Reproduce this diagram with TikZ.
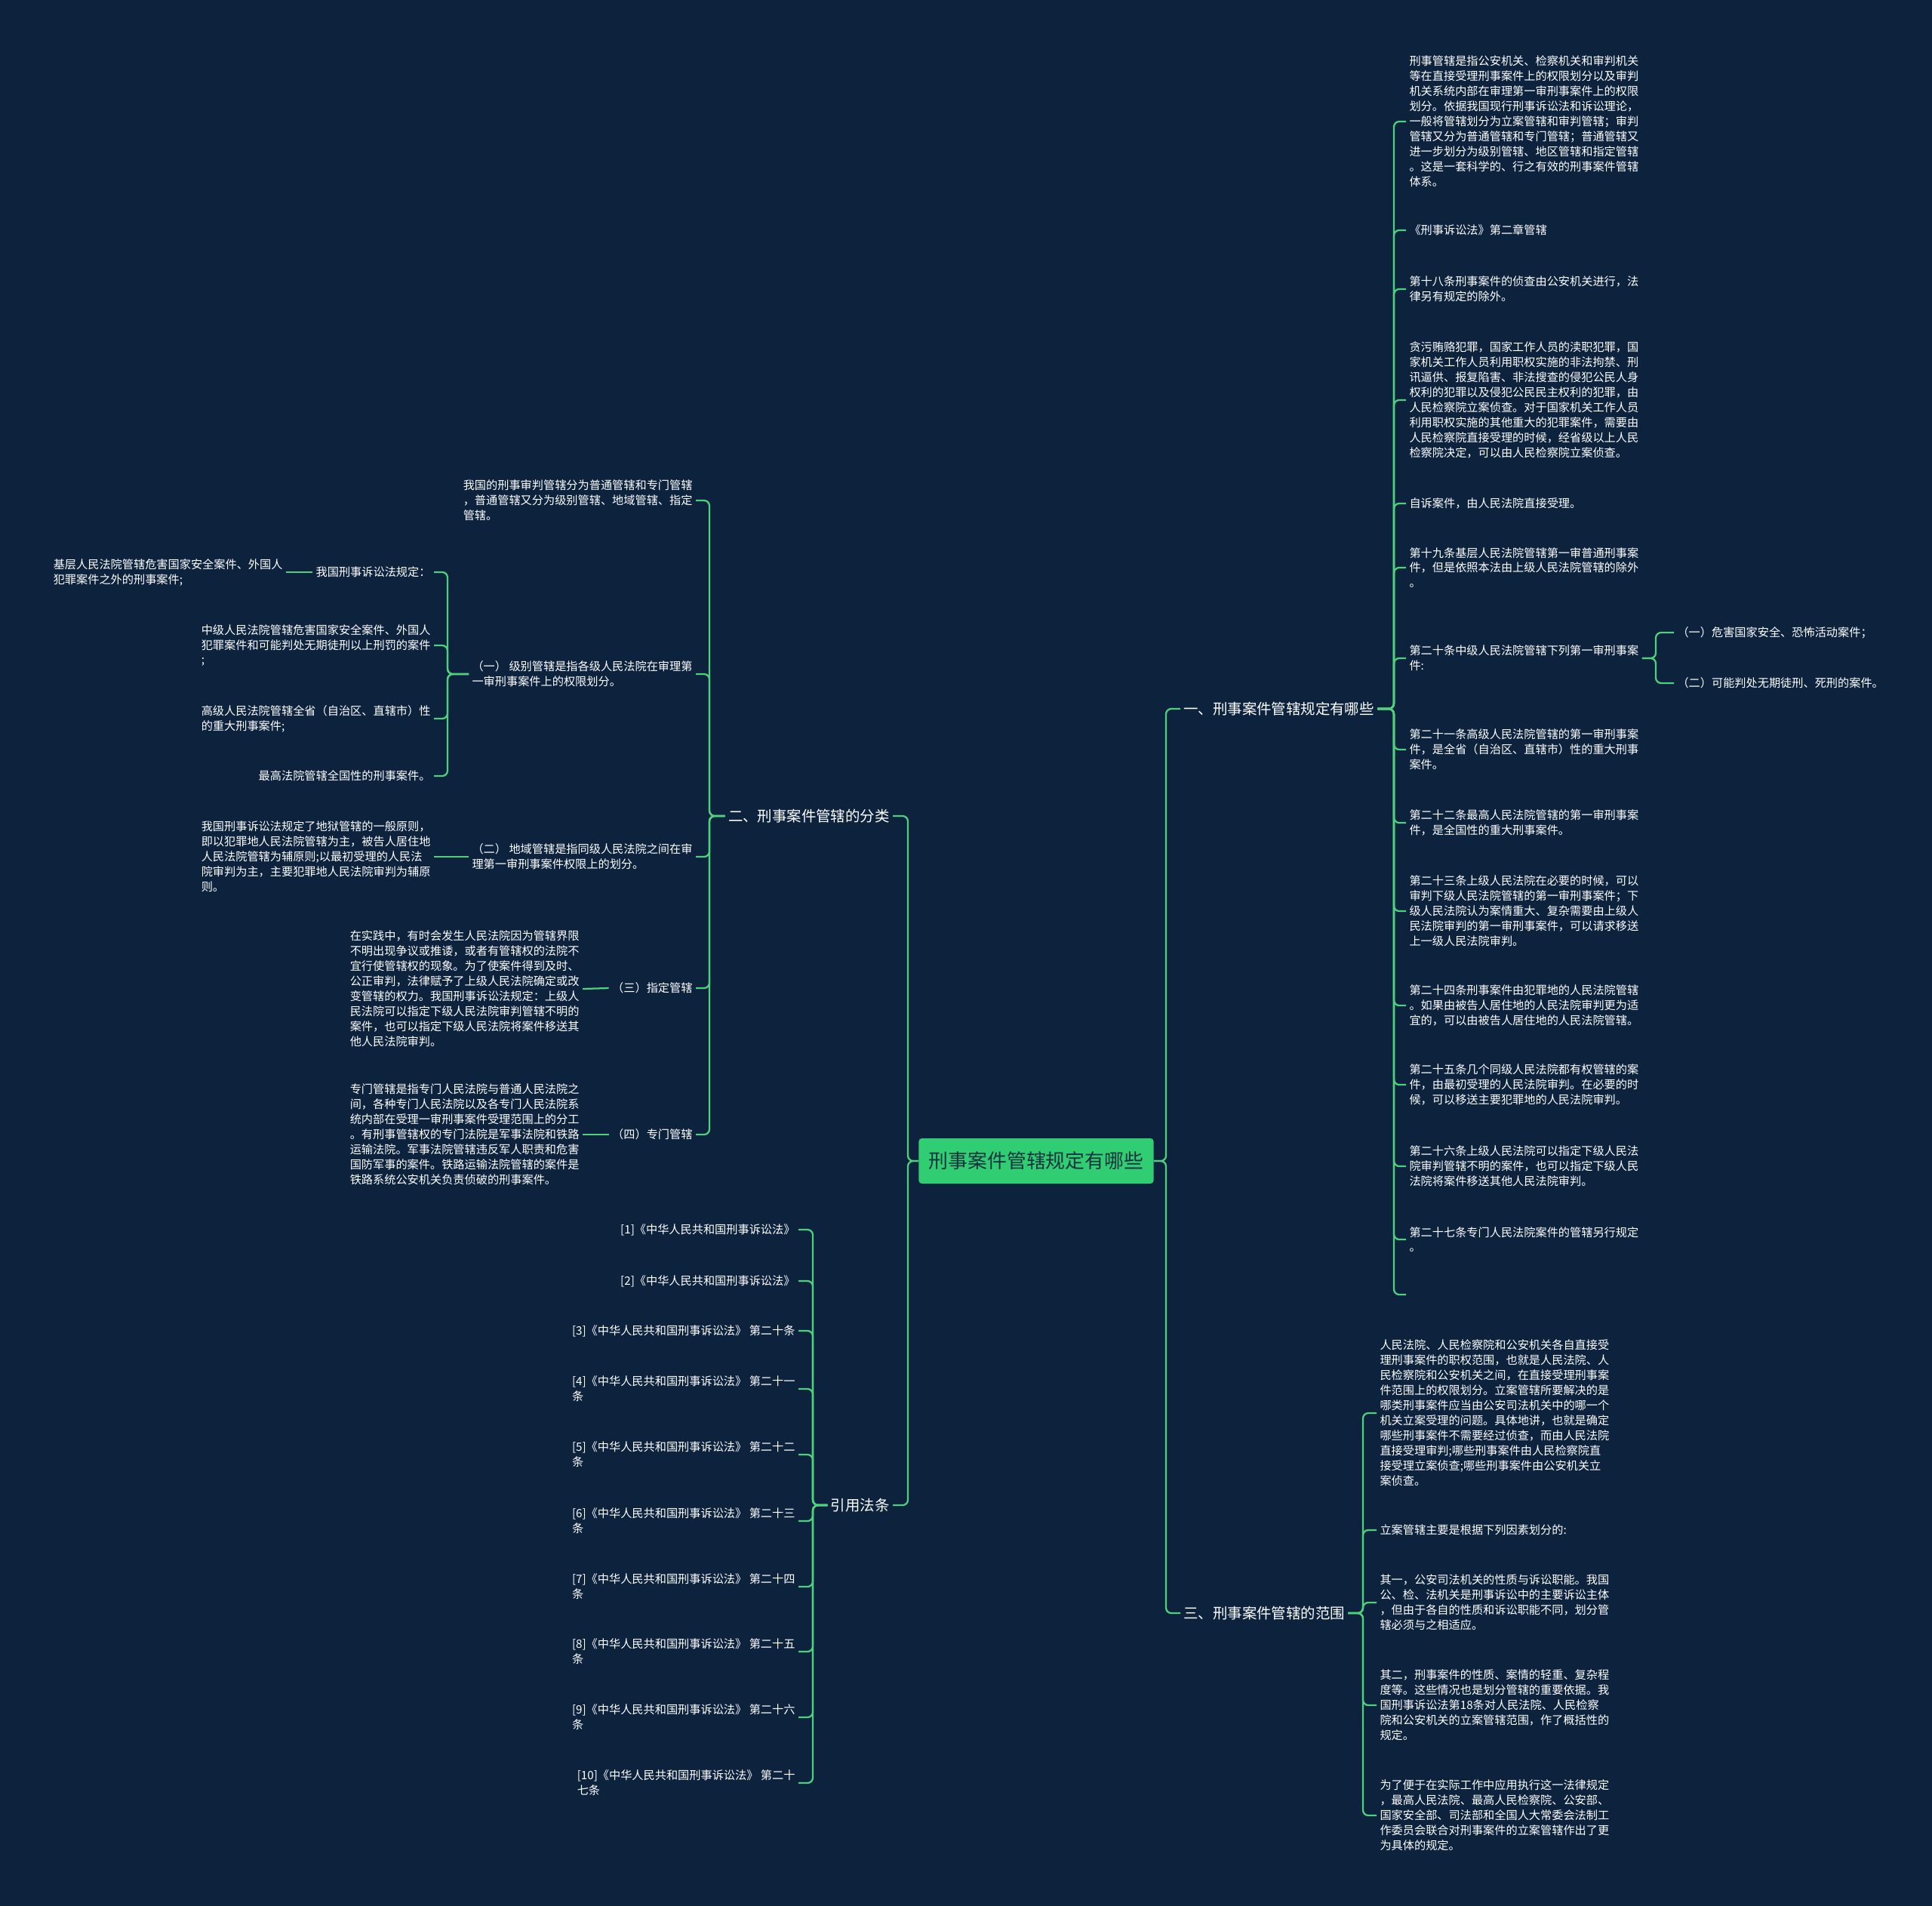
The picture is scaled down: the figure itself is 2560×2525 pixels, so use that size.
\documentclass[tikz,border=0pt]{standalone}
\usepackage{fontspec}
\setmainfont{Noto Sans CJK SC}
\usetikzlibrary{positioning}

\definecolor{bgnavy}{RGB}{12,34,61}
\definecolor{linkgreen}{RGB}{78,208,125}
\definecolor{rootfill}{RGB}{48,205,115}
\definecolor{roottext}{RGB}{22,52,62}

\tikzset{
  link/.style={draw=linkgreen, line width=1.6pt, rounded corners=5pt},
  leaf/.style={text=white, font=\fontsize{10.8pt}{14.2pt}\selectfont, align=left, inner sep=3pt},
  branch/.style={text=white, font=\fontsize{13.8pt}{16pt}\selectfont, inner sep=3pt},
  rootbox/.style={fill=rootfill, text=roottext, rounded corners=3pt, minimum width=7.78cm,
    minimum height=1.5cm, font=\fontsize{18.4pt}{22pt}\selectfont}
}

\begin{document}
\begin{tikzpicture}[x=0.025cm, y=-0.025cm]
\useasboundingbox (0,0) rectangle (2560,2525);
\fill[bgnavy] (0,0) rectangle (2560,2525);

% root and main branches
\node[rootbox] (root) at (1373,1538) {刑事案件管辖规定有哪些};
\node[branch, anchor=west] (b1) at (1564,939) {一、刑事案件管辖规定有哪些};
\node[branch, anchor=east] (b2) at (1183,1081) {二、刑事案件管辖的分类};
\node[branch, anchor=west] (b3) at (1564,2137) {三、刑事案件管辖的范围};
\node[branch, anchor=east] (b4) at (1183,1994) {引用法条};

% junction points
\coordinate (jr) at (1545,1538);
\coordinate (jl) at (1203,1538);
\coordinate (j1) at (1847,939);
\coordinate (j2) at (940,1081);
\coordinate (j3) at (1806,2137);
\coordinate (j4) at (1077,1994);
\coordinate (j7) at (2194,872);
\coordinate (jl2) at (593,893);

% branch one
\node[leaf, anchor=west] (r1) at (1863,161) {刑事管辖是指公安机关、检察机关和审判机关\\%
等在直接受理刑事案件上的权限划分以及审判\\%
机关系统内部在审理第一审刑事案件上的权限\\%
划分。依据我国现行刑事诉讼法和诉讼理论，\\%
一般将管辖划分为立案管辖和审判管辖；审判\\%
管辖又分为普通管辖和专门管辖；普通管辖又\\%
进一步划分为级别管辖、地区管辖和指定管辖\\%
。这是一套科学的、行之有效的刑事案件管辖\\%
体系。};
\node[leaf, anchor=west] (r2) at (1863,305) {《刑事诉讼法》第二章管辖};
\node[leaf, anchor=west] (r3) at (1863,383) {第十八条刑事案件的侦查由公安机关进行，法\\%
律另有规定的除外。};
\node[leaf, anchor=west] (r4) at (1863,530) {贪污贿赂犯罪，国家工作人员的渎职犯罪，国\\%
家机关工作人员利用职权实施的非法拘禁、刑\\%
讯逼供、报复陷害、非法搜查的侵犯公民人身\\%
权利的犯罪以及侵犯公民民主权利的犯罪，由\\%
人民检察院立案侦查。对于国家机关工作人员\\%
利用职权实施的其他重大的犯罪案件，需要由\\%
人民检察院直接受理的时候，经省级以上人民\\%
检察院决定，可以由人民检察院立案侦查。};
\node[leaf, anchor=west] (r5) at (1863,667) {自诉案件，由人民法院直接受理。};
\node[leaf, anchor=west] (r6) at (1863,752) {第十九条基层人民法院管辖第一审普通刑事案\\%
件，但是依照本法由上级人民法院管辖的除外\\%
。};
\node[leaf, anchor=west] (r7) at (1863,872) {第二十条中级人民法院管辖下列第一审刑事案\\%
件:};
\node[leaf, anchor=west] (r7a) at (2218,838) {（一）危害国家安全、恐怖活动案件；};
\node[leaf, anchor=west] (r7b) at (2218,905) {（二）可能判处无期徒刑、死刑的案件。};
\node[leaf, anchor=west] (r8) at (1863,993) {第二十一条高级人民法院管辖的第一审刑事案\\%
件，是全省（自治区、直辖市）性的重大刑事\\%
案件。};
\node[leaf, anchor=west] (r9) at (1863,1090) {第二十二条最高人民法院管辖的第一审刑事案\\%
件，是全国性的重大刑事案件。};
\node[leaf, anchor=west] (r10) at (1863,1207) {第二十三条上级人民法院在必要的时候，可以\\%
审判下级人民法院管辖的第一审刑事案件；下\\%
级人民法院认为案情重大、复杂需要由上级人\\%
民法院审判的第一审刑事案件，可以请求移送\\%
上一级人民法院审判。};
\node[leaf, anchor=west] (r11) at (1863,1332) {第二十四条刑事案件由犯罪地的人民法院管辖\\%
。如果由被告人居住地的人民法院审判更为适\\%
宜的，可以由被告人居住地的人民法院管辖。};
\node[leaf, anchor=west] (r12) at (1863,1437) {第二十五条几个同级人民法院都有权管辖的案\\%
件，由最初受理的人民法院审判。在必要的时\\%
候，可以移送主要犯罪地的人民法院审判。};
\node[leaf, anchor=west] (r13) at (1863,1545) {第二十六条上级人民法院可以指定下级人民法\\%
院审判管辖不明的案件，也可以指定下级人民\\%
法院将案件移送其他人民法院审判。};
\node[leaf, anchor=west] (r14) at (1863,1642) {第二十七条专门人民法院案件的管辖另行规定\\%
。};
\node[leaf, anchor=west] (r15) at (1863,1715) {};

% branch two
\node[leaf, anchor=east] (l1) at (922,663) {我国的刑事审判管辖分为普通管辖和专门管辖\\%
，普通管辖又分为级别管辖、地域管辖、指定\\%
管辖。};
\node[leaf, anchor=east] (l2) at (922,893) {（一） 级别管辖是指各级人民法院在审理第\\%
一审刑事案件上的权限划分。};
\node[leaf, anchor=east] (l2a) at (575,758) {我国刑事诉讼法规定：};
\node[leaf, anchor=east] (l2a1) at (379,758) {基层人民法院管辖危害国家安全案件、外国人\\%
犯罪案件之外的刑事案件;};
\node[leaf, anchor=east] (l2b) at (575,855) {中级人民法院管辖危害国家安全案件、外国人\\%
犯罪案件和可能判处无期徒刑以上刑罚的案件\\%
;};
\node[leaf, anchor=east] (l2c) at (575,952) {高级人民法院管辖全省（自治区、直辖市）性\\%
的重大刑事案件;};
\node[leaf, anchor=east] (l2d) at (575,1028) {最高法院管辖全国性的刑事案件。};
\node[leaf, anchor=east] (l3) at (922,1135) {（二） 地域管辖是指同级人民法院之间在审\\%
理第一审刑事案件权限上的划分。};
\node[leaf, anchor=east] (l3a) at (575,1135) {我国刑事诉讼法规定了地狱管辖的一般原则，\\%
即以犯罪地人民法院管辖为主，被告人居住地\\%
人民法院管辖为辅原则;以最初受理的人民法\\%
院审判为主，主要犯罪地人民法院审判为辅原\\%
则。};
\node[leaf, anchor=east] (l4) at (922,1309) {（三）指定管辖};
\node[leaf, anchor=east] (l4a) at (772,1310) {在实践中，有时会发生人民法院因为管辖界限\\%
不明出现争议或推诿，或者有管辖权的法院不\\%
宜行使管辖权的现象。为了使案件得到及时、\\%
公正审判，法律赋予了上级人民法院确定或改\\%
变管辖的权力。我国刑事诉讼法规定：上级人\\%
民法院可以指定下级人民法院审判管辖不明的\\%
案件，也可以指定下级人民法院将案件移送其\\%
他人民法院审判。};
\node[leaf, anchor=east] (l5) at (922,1503) {（四）专门管辖};
\node[leaf, anchor=east] (l5a) at (772,1503) {专门管辖是指专门人民法院与普通人民法院之\\%
间，各种专门人民法院以及各专门人民法院系\\%
统内部在受理一审刑事案件受理范围上的分工\\%
。有刑事管辖权的专门法院是军事法院和铁路\\%
运输法院。军事法院管辖违反军人职责和危害\\%
国防军事的案件。铁路运输法院管辖的案件是\\%
铁路系统公安机关负责侦破的刑事案件。};

% branch three
\node[leaf, anchor=west] (s1) at (1824,1872) {人民法院、人民检察院和公安机关各自直接受\\%
理刑事案件的职权范围，也就是人民法院、人\\%
民检察院和公安机关之间，在直接受理刑事案\\%
件范围上的权限划分。立案管辖所要解决的是\\%
哪类刑事案件应当由公安司法机关中的哪一个\\%
机关立案受理的问题。具体地讲，也就是确定\\%
哪些刑事案件不需要经过侦查，而由人民法院\\%
直接受理审判;哪些刑事案件由人民检察院直\\%
接受理立案侦查;哪些刑事案件由公安机关立\\%
案侦查。};
\node[leaf, anchor=west] (s2) at (1824,2027) {立案管辖主要是根据下列因素划分的:};
\node[leaf, anchor=west] (s3) at (1824,2123) {其一，公安司法机关的性质与诉讼职能。我国\\%
公、检、法机关是刑事诉讼中的主要诉讼主体\\%
，但由于各自的性质和诉讼职能不同，划分管\\%
辖必须与之相适应。};
\node[leaf, anchor=west] (s4) at (1824,2259) {其二，刑事案件的性质、案情的轻重、复杂程\\%
度等。这些情况也是划分管辖的重要依据。我\\%
国刑事诉讼法第18条对人民法院、人民检察\\%
院和公安机关的立案管辖范围，作了概括性的\\%
规定。};
\node[leaf, anchor=west] (s5) at (1824,2405) {为了便于在实际工作中应用执行这一法律规定\\%
，最高人民法院、最高人民检察院、公安部、\\%
国家安全部、司法部和全国人大常委会法制工\\%
作委员会联合对刑事案件的立案管辖作出了更\\%
为具体的规定。};

% branch four
\node[leaf, anchor=east] (f1) at (1058,1629) {[1]《中华人民共和国刑事诉讼法》};
\node[leaf, anchor=east] (f2) at (1058,1697) {[2]《中华人民共和国刑事诉讼法》};
\node[leaf, anchor=east] (f3) at (1058,1763) {[3]《中华人民共和国刑事诉讼法》 第二十条};
\node[leaf, anchor=east] (f4) at (1058,1840) {[4]《中华人民共和国刑事诉讼法》 第二十一\\条};
\node[leaf, anchor=east] (f5) at (1058,1927) {[5]《中华人民共和国刑事诉讼法》 第二十二\\条};
\node[leaf, anchor=east] (f6) at (1058,2015) {[6]《中华人民共和国刑事诉讼法》 第二十三\\条};
\node[leaf, anchor=east] (f7) at (1058,2102) {[7]《中华人民共和国刑事诉讼法》 第二十四\\条};
\node[leaf, anchor=east] (f8) at (1058,2188) {[8]《中华人民共和国刑事诉讼法》 第二十五\\条};
\node[leaf, anchor=east] (f9) at (1058,2275) {[9]《中华人民共和国刑事诉讼法》 第二十六\\条};
\node[leaf, anchor=east] (f10) at (1058,2362) {[10]《中华人民共和国刑事诉讼法》 第二十\\七条};

% connectors
\draw[link] (root.east) -- (jr) |- (b1.west);
\draw[link] (root.east) -- (jr) |- (b3.west);
\draw[link] (root.west) -- (jl) |- (b2.east);
\draw[link] (root.west) -- (jl) |- (b4.east);
\foreach \i in {1,...,15}
  \draw[link] (b1.east) -- (j1) |- (r\i.west);
\draw[link] (r7.east) -- (j7) |- (r7a.west);
\draw[link] (r7.east) -- (j7) |- (r7b.west);
\foreach \n in {l1,l2,l3,l4,l5}
  \draw[link] (b2.west) -- (j2) |- (\n.east);
\foreach \n in {l2a,l2b,l2c,l2d}
  \draw[link] (l2.west) -- (jl2) |- (\n.east);
\draw[link] (l2a.west) -- (l2a1.east);
\draw[link] (l3.west) -- (l3a.east);
\draw[link] (l4.west) -- (l4a.east);
\draw[link] (l5.west) -- (l5a.east);
\foreach \i in {1,...,5}
  \draw[link] (b3.east) -- (j3) |- (s\i.west);
\foreach \i in {1,...,10}
  \draw[link] (b4.west) -- (j4) |- (f\i.east);
\end{tikzpicture}
\end{document}
